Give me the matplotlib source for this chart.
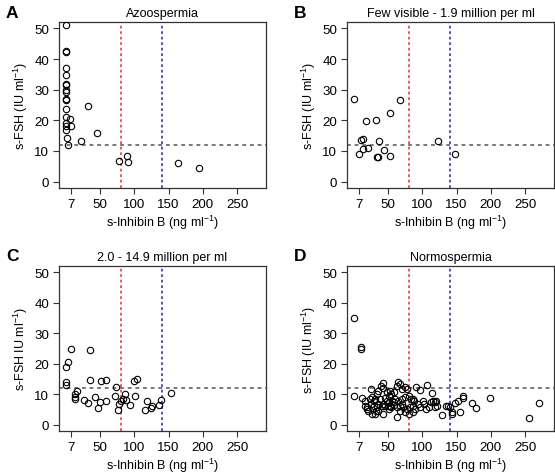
import matplotlib
matplotlib.use("Agg")
import matplotlib.pyplot as plt

plt.rcParams['font.family'] = ['Liberation Sans', 'DejaVu Sans']
plt.rcParams['mathtext.default'] = 'regular'

# ---------------- data ----------------
panel_letters = ["A", "B", "C", "D"]
panel_titles = ["Azoospermia", "Few visible - 1.9 million per ml",
                "2.0 - 14.9 million per ml", "Normospermia"]
y_labels = ["s-FSH (IU ml$^{-1}$)", "s-FSH (IU ml$^{-1}$)",
            "s-FSH IU ml$^{-1}$)", "s-FSH (IU ml$^{-1}$)"]
x_label = "s-Inhibin B (ng ml$^{-1}$)"
x_ticks = [7, 50, 100, 150, 200, 250]
y_ticks = [0, 10, 20, 30, 40, 50]
fsh_cutoff = 12
inhb_red = 80
inhb_blue = 140

A_x = [0, 0, 0, 0, 0, 0, 0, 0, 0, 0, 1, 0, 0, 6, 0, 0, 7, 0, 2, 3,
       32, 46, 23, 78, 90, 91, 164, 195]
A_y = [51.1, 42.2, 42.6, 37.1, 34.9, 31.6, 32.0, 29.4, 30.0, 26.6, 27.1, 23.8,
       21.1, 20.5, 19.2, 18.1, 18.3, 16.7, 14.2, 12.0,
       24.6, 16.0, 13.1, 6.7, 8.2, 6.4, 6.1, 4.3]

B_x = [0, 67, 53, 18, 32, 10, 14, 37, 13, 21, 8, 44, 34, 36, 53, 123, 148]
B_y = [27.0, 26.6, 22.5, 19.9, 20.2, 13.7, 14.0, 13.2, 10.5, 11.1, 9.1, 10.3,
       7.9, 7.9, 8.4, 13.2, 9.0]

C_x = [7, 36, 3, 0, 0, 1, 17, 14, 13, 14, 27, 32, 42, 47, 50, 58, 35, 51, 58,
       72, 74, 76, 78, 81, 84, 86, 88, 93, 101, 100, 104, 119, 116, 124, 126,
       136, 139, 153]
C_y = [25.0, 24.4, 20.6, 18.8, 13.9, 13.1, 11.2, 10.0, 9.2, 8.4, 8.2, 7.0, 9.1,
       5.6, 7.3, 7.6, 14.7, 14.4, 14.7, 9.3, 12.3, 4.9, 6.8, 7.7, 8.3, 10.0,
       8.2, 6.6, 9.3, 14.3, 14.9, 7.7, 4.9, 5.4, 6.2, 6.6, 8.2, 10.5]

D_x = [0, 10, 10, 0,
       25, 40, 43, 42, 65, 68, 63, 70, 75, 78,
       36, 34, 48, 53, 51, 55, 59,
       12, 17, 24, 26, 29, 31, 38, 45, 48, 51, 56, 60, 65, 70, 75, 80, 83,
       20, 30, 34, 41, 46, 50, 53, 55, 59, 63, 67, 72, 77, 82,
       19, 21, 32, 31, 36, 63, 75, 80,
       43, 58, 70, 36, 25, 17, 51, 68, 42, 27,
       91, 97, 107, 114, 87, 88, 87, 89, 86, 93, 97, 101, 103, 105, 110, 113,
       115, 119, 118, 120, 121, 128, 135, 137, 141, 144, 143, 148, 152, 155,
       159, 159, 173, 178, 198, 255, 270]
D_y = [35.0, 25.0, 25.6, 9.5,
       11.7, 12.8, 13.7, 11.9, 13.9, 13.4, 12.8, 11.7, 12.3, 11.7,
       10.9, 10.1, 10.6, 10.9, 9.5, 10.1, 10.8,
       8.7, 7.9, 8.4, 9.0, 7.9, 8.4, 8.4, 8.7, 7.9, 7.3, 7.9, 8.4, 7.9, 8.4,
       9.0, 9.5, 8.4,
       5.7, 6.2, 5.7, 6.2, 6.2, 6.2, 6.2, 5.7, 6.5, 5.7, 6.2, 5.7, 5.2, 5.7,
       5.2, 4.6, 4.6, 3.5, 4.6, 2.4, 4.3, 3.5,
       6.8, 7.3, 6.8, 6.8, 6.8, 6.2, 5.2, 4.6, 3.5, 3.5,
       12.3, 11.5, 13.0, 10.3, 8.4, 7.9, 6.2, 5.1, 4.3, 6.8, 5.7, 7.9, 6.8,
       5.1, 5.7, 7.3, 7.9, 7.3, 5.7, 7.9, 6.2, 3.0, 6.2, 6.2, 5.7, 4.3, 3.5,
       7.1, 7.6, 4.0, 8.6, 9.5, 7.1, 5.4, 8.6, 2.1, 7.1]

data_x = [A_x, B_x, C_x, D_x]
data_y = [A_y, B_y, C_y, D_y]

# ---------------- figure ----------------
W, H = 555, 477
fig = plt.figure(figsize=(W / 100, H / 100), dpi=100)

boxes = [(59, 23, 207, 166), (347, 23, 207, 166),
         (59, 267, 207, 165), (347, 267, 207, 165)]

frame_col = "#333333"
fs_tick = 9.6
fs_lab = 9.0

for i, (l, t, w, h) in enumerate(boxes):
    ax = fig.add_axes([l / W, 1 - (t + h) / H, w / W, h / H])
    ax.plot(data_x[i], data_y[i], linestyle="none", marker="o", ms=4.6,
            mfc="none", mec="black", mew=0.8, zorder=3)
    ax.axhline(fsh_cutoff, color="#555555", lw=1.1, ls=(0, (2.5, 2.5)), zorder=2)
    ax.axvline(inhb_red, color="#e0302a", lw=1.1, ls=(0, (1.8, 1.8)), zorder=2)
    ax.axvline(inhb_blue, color="#2222bb", lw=1.1, ls=(0, (1.8, 1.8)), zorder=2)
    ax.set_xlim(-9.8, 292)
    ax.set_ylim(-2.1, 52.1)
    ax.set_xticks(x_ticks)
    ax.set_xticklabels([str(v) for v in x_ticks])
    ax.set_yticks(y_ticks)
    ax.tick_params(axis="both", direction="out", length=4.5, width=0.8,
                   color=frame_col, labelsize=fs_tick, pad=2.5)
    for s in ax.spines.values():
        s.set_color(frame_col)
        s.set_linewidth(0.9)
    ax.set_xlabel(x_label, fontsize=fs_lab, labelpad=2)
    ax.set_ylabel(y_labels[i], fontsize=fs_lab, labelpad=3)
    ax.set_title(panel_titles[i], fontsize=fs_lab, pad=4)
    fig.text((l - 53) / W, 1 - (t - 10) / H, panel_letters[i],
             fontsize=12.5, fontweight="bold", ha="left", va="center")

fig.savefig("out.png", dpi=100)
